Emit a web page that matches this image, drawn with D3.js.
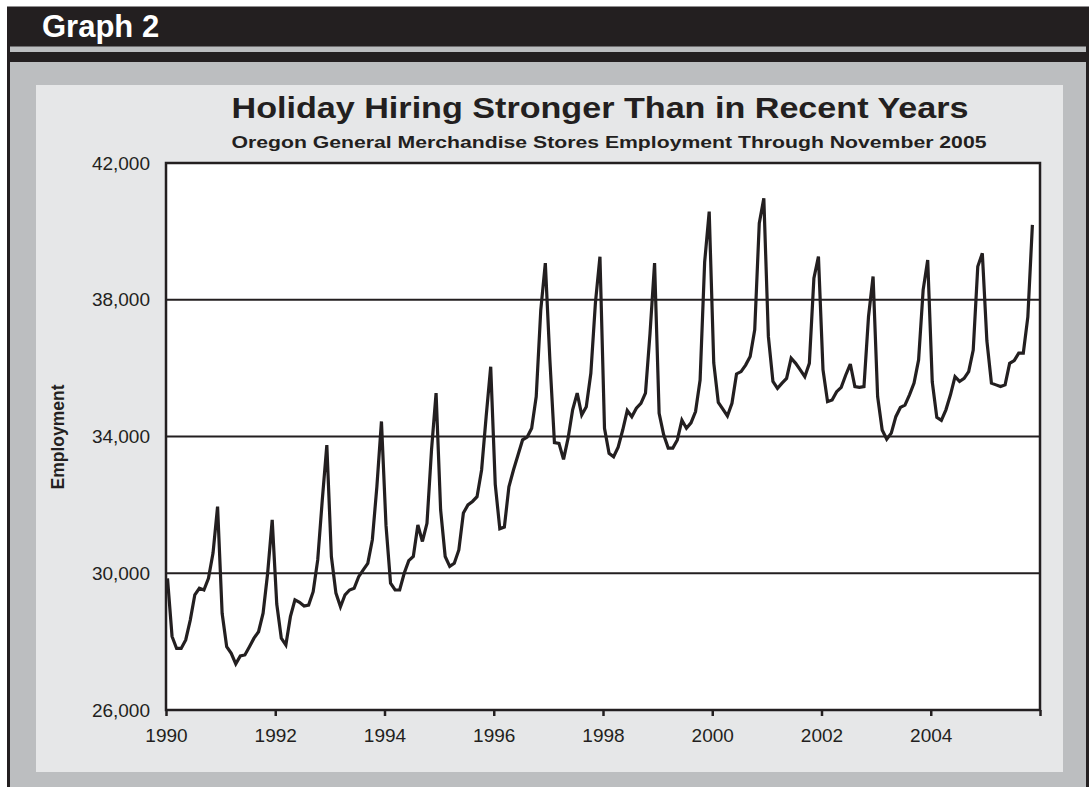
<!DOCTYPE html>
<html>
<head>
<meta charset="utf-8">
<script src="https://cdn.jsdelivr.net/npm/d3@7"></script>
<style>
  html, body { margin: 0; padding: 0; background: #ffffff; }
  svg { display: block; }
  text { font-family: "Liberation Sans", Arial, Helvetica, sans-serif; }
</style>
</head>
<body>
<svg id="chart" width="1091" height="787"></svg>
<script>
// Oregon general merchandise stores employment, monthly, Jan 1990 - Nov 2005
const startYear = 1990;
const emp1990 = [29850, 28150, 27800, 27800, 28050, 28630, 29370, 29560, 29510, 29850, 30590, 31950];
const emp1991 = [28830, 27850, 27660, 27350, 27580, 27610, 27850, 28100, 28290, 28830, 30000, 31560];
const emp1992 = [29100, 28100, 27900, 28730, 29220, 29150, 29040, 29070, 29460, 30390, 32140, 33750];
const emp1993 = [30490, 29420, 29020, 29370, 29510, 29560, 29900, 30100, 30290, 30980, 32540, 34440];
const emp1994 = [31400, 29710, 29510, 29510, 30000, 30370, 30490, 31410, 30930, 31460, 33610, 35270];
const emp1995 = [31850, 30490, 30200, 30290, 30680, 31760, 32000, 32100, 32240, 33020, 34580, 36040];
const emp1996 = [32600, 31300, 31350, 32530, 33020, 33460, 33900, 33980, 34240, 35170, 37700, 39070];
const emp1997 = [36240, 33820, 33800, 33330, 33950, 34780, 35270, 34630, 34870, 35850, 37900, 39260];
const emp1998 = [34240, 33510, 33410, 33690, 34190, 34760, 34580, 34830, 34970, 35270, 37020, 39070];
const emp1999 = [34680, 34050, 33660, 33660, 33900, 34480, 34240, 34400, 34730, 35650, 39100, 40580];
const emp2000 = [36150, 35000, 34800, 34600, 34970, 35830, 35900, 36090, 36340, 37120, 40240, 40970];
const emp2001 = [36920, 35610, 35410, 35560, 35700, 36290, 36140, 35950, 35750, 36140, 38630, 39260];
const emp2002 = [35950, 35020, 35070, 35310, 35440, 35800, 36120, 35460, 35440, 35460, 37510, 38680];
const emp2003 = [35170, 34190, 33920, 34100, 34580, 34850, 34920, 35220, 35560, 36240, 38290, 39160];
const emp2004 = [35600, 34560, 34470, 34780, 35220, 35750, 35610, 35700, 35900, 36530, 38970, 39360];
const emp2005 = [36800, 35560, 35510, 35460, 35510, 36140, 36220, 36440, 36440, 37500, 40190];

const yTickValues = [26000, 30000, 34000, 38000, 42000];
const gridValues = [30000, 34000, 38000];
const xTickYears = [1990, 1992, 1994, 1996, 1998, 2000, 2002, 2004, 2006];
const xLabelYears = [1990, 1992, 1994, 1996, 1998, 2000, 2002, 2004];

const headerLabel = "Graph 2";
const titleText = "Holiday Hiring Stronger Than in Recent Years";
const subtitleText = "Oregon General Merchandise Stores Employment Through November 2005";
const yAxisTitle = "Employment";

const employment = [].concat(emp1990, emp1991, emp1992, emp1993, emp1994, emp1995,
  emp1996, emp1997, emp1998, emp1999, emp2000, emp2001, emp2002, emp2003, emp2004, emp2005);

const ink = "#231f20";
const frameGray = "#bcbec0";
const panelGray = "#e6e7e8";

const svg = d3.select("#chart");

// page frame: black header band, grey stripe, grey body, light panel
svg.append("rect").attr("x", 7).attr("y", 6.5).attr("width", 1082).attr("height", 790).attr("fill", ink);
svg.append("rect").attr("x", 10).attr("y", 46.5).attr("width", 1076).attr("height", 5.5).attr("fill", frameGray);
svg.append("rect").attr("x", 10).attr("y", 62).attr("width", 1076).attr("height", 740).attr("fill", frameGray);
svg.append("rect").attr("x", 36).attr("y", 85).attr("width", 1027).attr("height", 687).attr("fill", panelGray);

svg.append("text")
  .attr("x", 42).attr("y", 37)
  .attr("fill", "#ffffff")
  .attr("font-size", 31).attr("font-weight", "bold")
  .text(headerLabel);

// plot area
const plot = { left: 166, right: 1040, top: 163, bottom: 710 };

const x = d3.scaleLinear()
  .domain([startYear, 2006])
  .range([plot.left, plot.right]);
const y = d3.scaleLinear()
  .domain([26000, 42000])
  .range([plot.bottom, plot.top]);

const monthTime = i => startYear + (i + 0.33) / 12;

svg.append("rect")
  .attr("x", plot.left).attr("y", plot.top)
  .attr("width", plot.right - plot.left).attr("height", plot.bottom - plot.top)
  .attr("fill", "#ffffff");

// horizontal gridlines
svg.append("g")
  .selectAll("line")
  .data(gridValues)
  .join("line")
  .attr("x1", plot.left).attr("x2", plot.right)
  .attr("y1", d => y(d)).attr("y2", d => y(d))
  .attr("stroke", ink).attr("stroke-width", 2);

// series line
const line = d3.line()
  .x((d, i) => x(monthTime(i)))
  .y(d => y(d));

svg.append("path")
  .datum(employment)
  .attr("d", line)
  .attr("fill", "none")
  .attr("stroke", ink)
  .attr("stroke-width", 3.2)
  .attr("stroke-linejoin", "miter")
  .attr("stroke-miterlimit", 3);

// frame
svg.append("rect")
  .attr("x", plot.left).attr("y", plot.top)
  .attr("width", plot.right - plot.left).attr("height", plot.bottom - plot.top)
  .attr("fill", "none").attr("stroke", ink).attr("stroke-width", 2.5);

// x axis
const xAxis = d3.axisBottom(x)
  .tickValues(xTickYears)
  .tickSize(6)
  .tickPadding(13)
  .tickFormat(d => xLabelYears.includes(d) ? String(d) : "");
const gx = svg.append("g")
  .attr("transform", `translate(0,${plot.bottom})`)
  .call(xAxis);
gx.select(".domain").remove();
gx.selectAll(".tick line").attr("stroke", ink).attr("stroke-width", 2.5);
gx.selectAll(".tick text")
  .attr("fill", ink)
  .attr("font-size", 19)
  .attr("font-family", "'Liberation Sans', Arial, sans-serif");

// y axis
const yAxis = d3.axisLeft(y)
  .tickValues(yTickValues)
  .tickSize(0)
  .tickPadding(16)
  .tickFormat(d3.format(","));
const gy = svg.append("g")
  .attr("transform", `translate(${plot.left},0)`)
  .call(yAxis);
gy.select(".domain").remove();
gy.selectAll(".tick text")
  .attr("fill", ink)
  .attr("font-size", 19)
  .attr("font-family", "'Liberation Sans', Arial, sans-serif");

// titles
svg.append("text")
  .attr("x", 600).attr("y", 118)
  .attr("text-anchor", "middle")
  .attr("fill", ink)
  .attr("font-size", 30).attr("font-weight", "bold")
  .attr("textLength", 737).attr("lengthAdjust", "spacingAndGlyphs")
  .text(titleText);

svg.append("text")
  .attr("x", 609).attr("y", 148)
  .attr("text-anchor", "middle")
  .attr("fill", ink)
  .attr("font-size", 17).attr("font-weight", "bold")
  .attr("textLength", 755).attr("lengthAdjust", "spacingAndGlyphs")
  .text(subtitleText);

svg.append("text")
  .attr("transform", "translate(64,437) rotate(-90)")
  .attr("text-anchor", "middle")
  .attr("fill", ink)
  .attr("font-size", 17.5).attr("font-weight", "bold")
  .text(yAxisTitle);
</script>
</body>
</html>
